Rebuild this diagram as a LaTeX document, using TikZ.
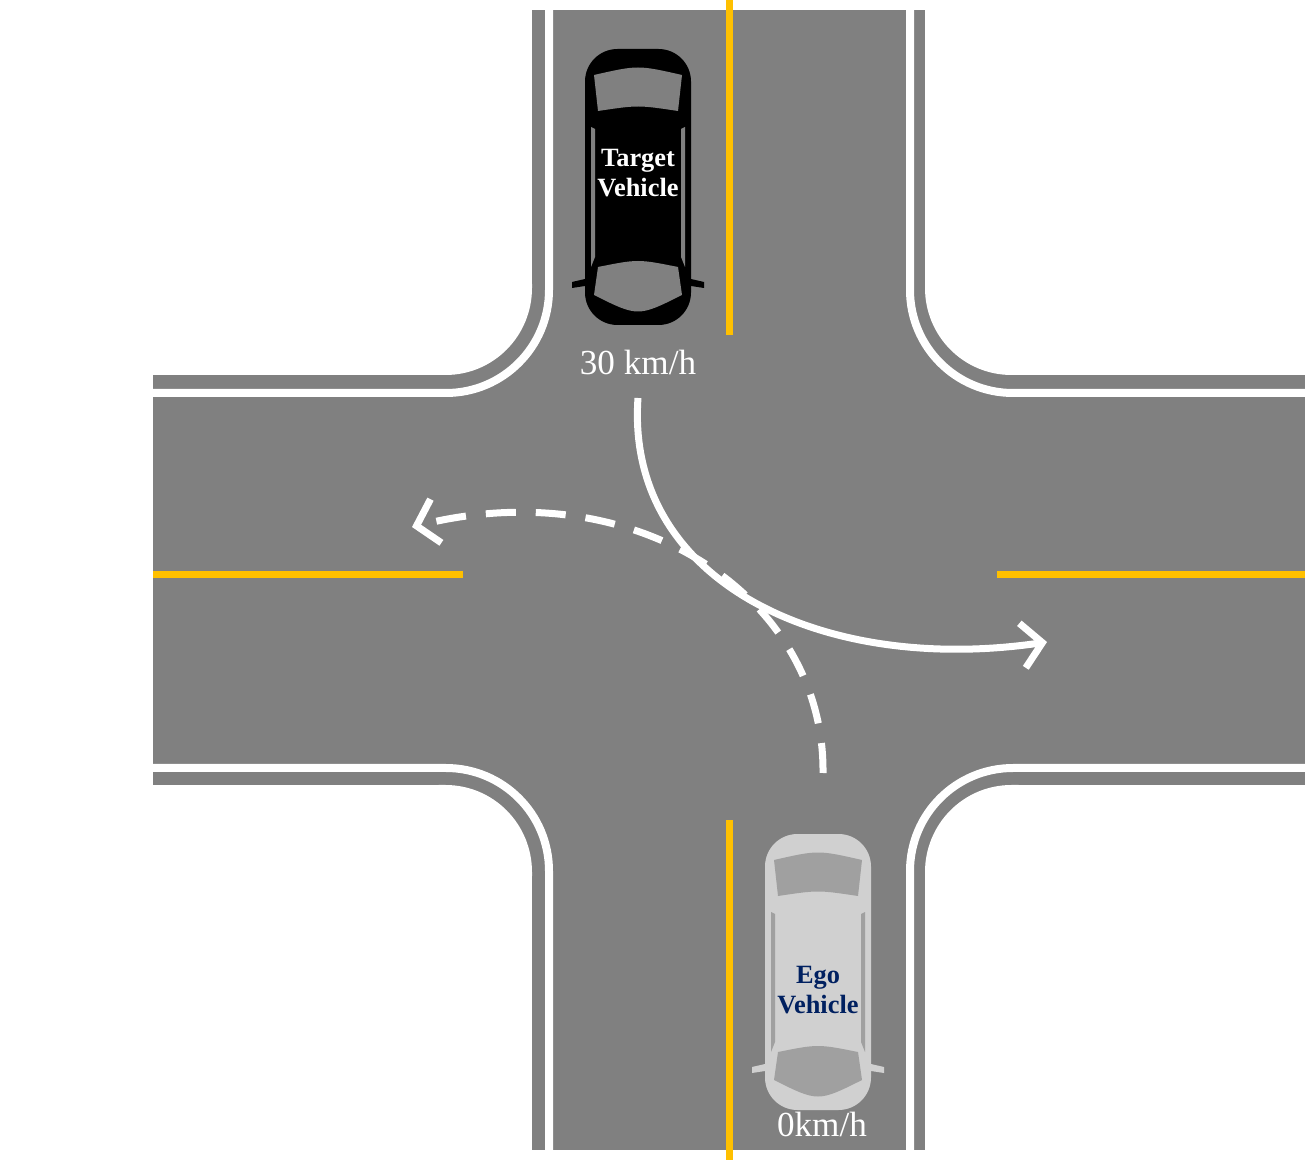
\documentclass[tikz,border=0pt]{standalone}
\usepackage{fontspec}
\setmainfont{Liberation Serif}
\usetikzlibrary{arrows.meta}
\definecolor{road}{RGB}{128,128,128}
\definecolor{lane}{RGB}{255,192,0}
\definecolor{egobody}{RGB}{208,208,208}
\definecolor{egotext}{RGB}{0,32,96}
\tikzset{
  edge/.style={white, line width=1.6mm},
  centre/.style={lane, line width=1.4mm},
  path/.style={white, line width=1.4mm, -{Straight Barb[length=4mm,width=9mm,line width=1.4mm]}},
  speed/.style={white, font=\fontsize{20}{22}\selectfont},
  carlabel/.style={font=\bfseries\fontsize{15}{17}\selectfont, align=center, inner sep=0pt}
}
% a car seen from above, centred at #1, body colour #2, glass colour #3
\newcommand{\car}[3]{%
  \begin{scope}[shift={#1}]
    \fill[#2, rounded corners=6.5mm] (-53,-138) rectangle (53,138);
    \fill[#2] (-53,92) -- (-66,95) -- (-66,101) -- (-53,99) -- cycle;
    \fill[#2] (53,92) -- (66,95) -- (66,101) -- (53,99) -- cycle;
    \fill[#3] (-44,-112) .. controls (0,-122) .. (44,-112) -- (40,-76) .. controls (0,-82) .. (-40,-76) -- cycle;
    \fill[#3] (-40,80) .. controls (0,72) .. (40,80) -- (44,108) .. controls (0,130) .. (-44,108) -- cycle;
    \fill[#3] (-47,-60) -- (-43,-58) -- (-43,70) -- (-47,80) -- cycle;
    \fill[#3] (47,-60) -- (43,-58) -- (43,70) -- (47,80) -- cycle;
  \end{scope}}
% white kerb corner, mirrored by #1 (x) and #2 (y) about the crossing centre
\newcommand{\kerb}[2]{%
  \begin{scope}[shift={(728.5,580)}, xscale=#1, yscale=#2]
    \fill[white] (-290,-296) -- (-196.5,-296) -- (-196.5,-292)
      .. controls (-196.5,-244) and (-235,-205) .. (-283,-205) -- (-290,-205) -- cycle;
  \end{scope}}
\begin{document}
\begin{tikzpicture}[x=0.2mm, y=-0.2mm]
  \useasboundingbox (0,0) rectangle (1310,1168);
  % road surface
  \fill[road] (532,10) rectangle (925,1150);
  \fill[road] (153,375) rectangle (1305,785);
  \fill[road] (445,290) rectangle (1012,870);
  % kerbs cut back with rounded corners
  \kerb{1}{1}
  \kerb{-1}{1}
  \kerb{1}{-1}
  \kerb{-1}{-1}
  % road edge lines
  \draw[edge, rounded corners=20.6mm] (549,10) -- (549,393) -- (153,393);
  \draw[edge, rounded corners=20.6mm] (910,10) -- (910,393) -- (1305,393);
  \draw[edge, rounded corners=20.6mm] (549,1150) -- (549,768) -- (153,768);
  \draw[edge, rounded corners=20.6mm] (910,1150) -- (910,768) -- (1305,768);
  % centre lines
  \draw[centre] (729,0) -- (729,335);
  \draw[centre] (729,820) -- (729,1160);
  \draw[centre] (153,575) -- (463,575);
  \draw[centre] (997,575) -- (1305,575);
  % vehicles
  \car{(638,187)}{black}{road}
  \car{(818,972)}{egobody}{road!75!white}
  \node[carlabel, white] (target) at (638,173) {Target\\Vehicle};
  \node[carlabel, egotext] (ego) at (818,990) {Ego\\Vehicle};
  \node[speed] (tspeed) at (638,362) {30 km/h};
  \node[speed] (espeed) at (822,1124) {0km/h};
  % manoeuvres
  \coordinate (tstart) at (638,398);
  \coordinate (tend) at (1047,642);
  \coordinate (estart) at (823,773);
  \coordinate (eend) at (412,527);
  \draw[path] (tstart) .. controls (625,580) and (820,675) .. (tend);
  \draw[path, dash pattern=on 6mm off 4mm] (estart) .. controls (825,600) and (640,470) .. (eend);
\end{tikzpicture}
\end{document}
